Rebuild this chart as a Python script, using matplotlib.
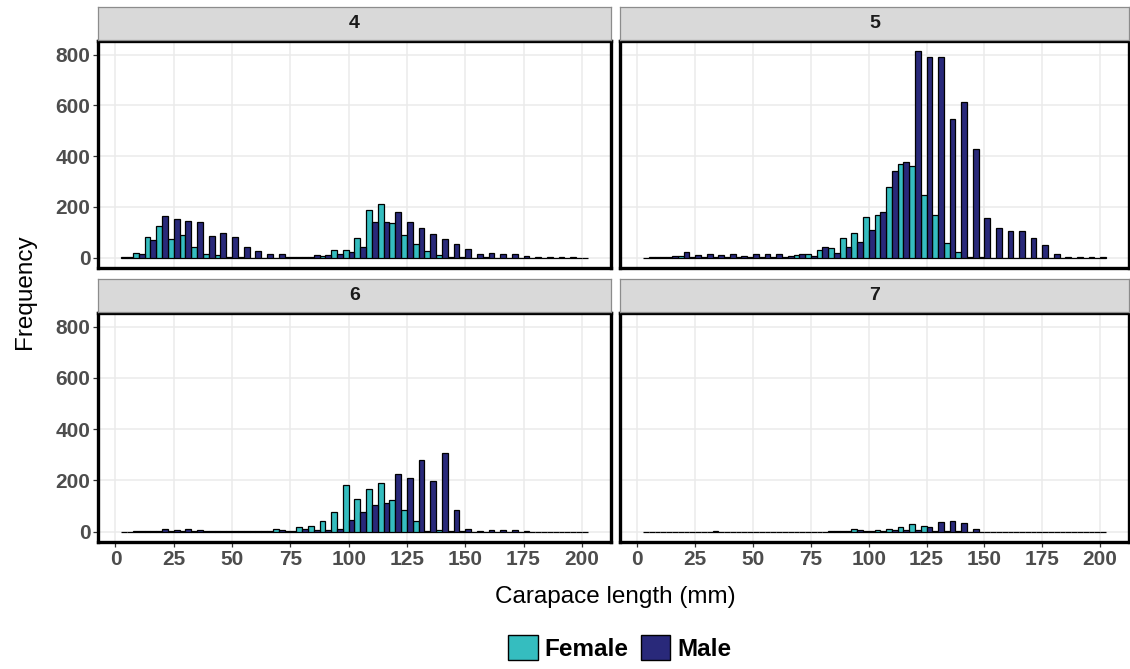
#!/usr/bin/env python3

"""Carapace length histograms by sex, faceted by group."""

###############################################################################
# Library imports
###############################################################################

import matplotlib

matplotlib.use("Agg")

import matplotlib.pyplot as plt
import numpy as np
from matplotlib.patches import Patch

###############################################################################
# Data
###############################################################################

# bin centres (mm), bin width 5
bin_centers = np.arange(5, 205, 5)
bin_width = 5

facets = ["4", "5", "6", "7"]

female_4 = [1, 18, 81, 125, 74, 91, 42, 13, 10, 2,
            1, 0, 0, 0, 2, 3, 4, 8, 29, 29,
            77, 189, 212, 135, 90, 52, 25, 10, 2, 1,
            0, 1, 0, 0, 0, 0, 0, 0, 0, 0]
male_4 = [2, 13, 69, 166, 153, 146, 139, 86, 96, 83,
          44, 25, 13, 13, 4, 4, 10, 10, 16, 21,
          44, 140, 139, 179, 142, 118, 95, 75, 53, 34,
          16, 20, 13, 16, 8, 2, 1, 1, 1, 0]

female_5 = [0, 2, 4, 6, 3, 3, 2, 2, 2, 3,
            3, 2, 4, 10, 14, 30, 39, 79, 99, 159,
            169, 280, 371, 360, 248, 168, 56, 22, 3, 1,
            0, 0, 0, 0, 0, 0, 0, 0, 0, 0]
male_5 = [1, 3, 8, 21, 12, 14, 10, 14, 8, 14,
          16, 14, 7, 16, 8, 42, 17, 43, 61, 111,
          181, 341, 377, 813, 789, 790, 546, 615, 429, 155,
          116, 107, 104, 78, 49, 16, 4, 1, 1, 1]

female_6 = [0, 1, 1, 3, 2, 2, 2, 1, 1, 1,
            1, 2, 2, 9, 2, 16, 21, 43, 78, 182,
            127, 165, 190, 122, 85, 42, 4, 6, 1, 1,
            0, 0, 0, 0, 0, 0, 0, 0, 0, 0]
male_6 = [0, 1, 2, 9, 5, 12, 5, 3, 2, 2,
          1, 4, 3, 5, 2, 9, 8, 8, 10, 46,
          75, 103, 110, 225, 208, 278, 197, 308, 85, 12,
          2, 6, 8, 6, 1, 0, 0, 0, 0, 0]

female_7 = [0, 0, 0, 0, 0, 0, 1, 0, 0, 0,
            0, 0, 0, 0, 0, 0, 2, 2, 10, 3,
            8, 10, 16, 31, 20, 2, 3, 1, 0, 0,
            0, 0, 0, 0, 0, 0, 0, 0, 0, 0]
male_7 = [0, 0, 0, 0, 0, 0, 0, 0, 0, 0,
          0, 0, 0, 0, 0, 0, 2, 2, 5, 3,
          4, 5, 5, 5, 16, 37, 43, 33, 10, 0,
          0, 0, 0, 0, 0, 0, 0, 0, 0, 0]

female_counts = [female_4, female_5, female_6, female_7]
male_counts = [male_4, male_5, male_6, male_7]

x_ticks = [0, 25, 50, 75, 100, 125, 150, 175, 200]
y_ticks = [0, 200, 400, 600, 800]

###############################################################################
# Style
###############################################################################

FEMALE = "#35BDBF"
MALE = "#29297A"
GRID = "#EBEBEB"
TICK_TEXT = "#4D4D4D"

plt.rcParams["font.family"] = ["Liberation Sans", "DejaVu Sans"]

W, H = 1130, 669

# panel boxes in pixels: (left, top, right, bottom)
panel_px = [
    (98, 41, 611, 268),
    (620, 41, 1129, 268),
    (98, 313, 611, 542),
    (620, 313, 1129, 542),
]
strip_h = 33


def _fig_rect(left, top, right, bottom):
    return [left / W, 1 - bottom / H, (right - left) / W, (bottom - top) / H]


###############################################################################
# Plot
###############################################################################

fig = plt.figure(figsize=(W / 100, H / 100), dpi=100)

x_lo = bin_centers[0] - bin_width / 2
x_hi = bin_centers[-1] + bin_width / 2
x_pad = (x_hi - x_lo) * 0.05
y_max = max(max(m) for m in male_counts + female_counts)
y_pad = y_max * 0.05

for i, name in enumerate(facets):
    left, top, right, bottom = panel_px[i]
    ax = fig.add_axes(_fig_rect(left, top, right, bottom))

    half = bin_width / 2
    ax.bar(bin_centers - half / 2, female_counts[i], width=half,
           color=FEMALE, edgecolor="black", linewidth=0.9, zorder=3)
    ax.bar(bin_centers + half / 2, male_counts[i], width=half,
           color=MALE, edgecolor="black", linewidth=0.9, zorder=3)

    ax.set_xlim(x_lo - x_pad, x_hi + x_pad)
    ax.set_ylim(-y_pad, y_max + y_pad)
    ax.set_xticks(x_ticks)
    ax.set_yticks(y_ticks)
    ax.grid(True, color=GRID, linewidth=1.1, zorder=0)
    ax.set_axisbelow(True)

    for spine in ax.spines.values():
        spine.set_linewidth(2.4)
        spine.set_color("black")
        spine.set_zorder(5)

    ax.tick_params(length=3.5, width=0.9, color="#333333", pad=2,
                   labelsize=15, labelcolor=TICK_TEXT)
    for lab in ax.get_xticklabels() + ax.get_yticklabels():
        lab.set_fontweight("bold")

    if i < 2:
        ax.tick_params(axis="x", length=0, labelbottom=False)
    if i % 2 == 1:
        ax.tick_params(axis="y", length=0, labelleft=False)

    # facet strip
    sax = fig.add_axes(_fig_rect(left, top - strip_h - 1, right, top - 1))
    sax.set_facecolor("#D9D9D9")
    sax.set_xticks([])
    sax.set_yticks([])
    for spine in sax.spines.values():
        spine.set_color("#8C8C8C")
        spine.set_linewidth(0.9)
    sax.text(0.5, 0.5, name, transform=sax.transAxes, ha="center",
             va="center", fontsize=14, fontweight="bold", color="#1A1A1A")

fig.text(615 / W, 1 - 597 / H, "Carapace length (mm)", ha="center",
         va="center", fontsize=17.5)
fig.text(25 / W, 1 - 292 / H, "Frequency", ha="center", va="center",
         rotation=90, fontsize=17.5)

handles = [
    Patch(facecolor=FEMALE, edgecolor="black", linewidth=1.0, label="Female"),
    Patch(facecolor=MALE, edgecolor="black", linewidth=1.0, label="Male"),
]
leg = fig.legend(handles=handles, loc="center", ncol=2,
                 bbox_to_anchor=(620 / W, 1 - 648 / H), frameon=False,
                 prop={"size": 17.5, "weight": "bold"},
                 handlelength=1.2, handleheight=1.2, handletextpad=0.3,
                 columnspacing=0.5)

fig.savefig("out.png", dpi=100)
